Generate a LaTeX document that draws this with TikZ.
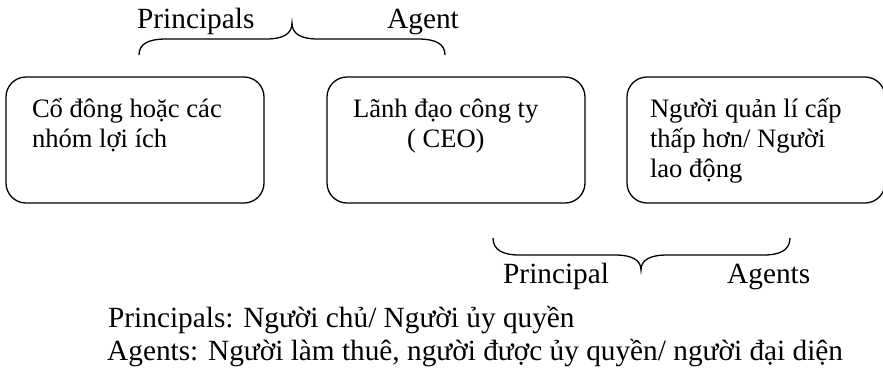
\documentclass[tikz,border=0pt]{standalone}
\usepackage{fontspec}
\setmainfont{Liberation Serif}
\newcommand{\boxfont}{\fontsize{26.6pt}{30pt}\selectfont\lineskiplimit=-100pt}
\newcommand{\lblfont}{\fontsize{29.3pt}{33pt}\selectfont}
\begin{document}
\begin{tikzpicture}[x=1pt,y=-1pt,
  rbox/.style={draw, line width=1.3pt, rounded corners=20pt, anchor=north west,
    inner ysep=0pt, outer sep=0pt, minimum width=258pt, minimum height=126pt, font=\boxfont},
  lbl/.style={anchor=base west, inner sep=0pt, font=\lblfont},
  brace/.style={line width=1.3pt}]
\useasboundingbox (0,0) rectangle (883,378);

% boxes
\node[rbox, inner xsep=26pt] (b1) at (6,77)
  {\parbox[t][126pt][t]{206pt}{\raggedright\rule{0pt}{40pt}Cổ đông hoặc các\\nhóm lợi ích}};
\node[rbox, inner xsep=26pt] (b2) at (327,77)
  {\parbox[t][126pt][t]{206pt}{\raggedright\rule{0pt}{40pt}Lãnh đạo công ty\\\hspace*{54pt}( CEO)}};
\node[rbox, inner xsep=23pt] (b3) at (627,77)
  {\parbox[t][126pt][t]{212pt}{\raggedright\rule{0pt}{40pt}Người quản lí cấp\\thấp hơn/ Người\\lao động}};

% top brace
\draw[brace] (139,55) .. controls (139,43) and (150,39) .. (166,39) -- (266,39)
  .. controls (283,39) and (292,34) .. (292,23)
  .. controls (292,34) and (301,39) .. (318,39) -- (418,39)
  .. controls (434,39) and (445,43) .. (445,55);
\node[lbl] (tp) at (137,28) {Principals};
\node[lbl] (ta) at (387,28) {Agent};

% bottom brace
\draw[brace] (493,238) .. controls (493,250) and (503,255) .. (519,255) -- (615,255)
  .. controls (632,255) and (641,260) .. (641,270)
  .. controls (641,260) and (650,255) .. (667,255) -- (764,255)
  .. controls (780,255) and (790,250) .. (790,238);
\node[lbl] (bp) at (503,283) {Principal};
\node[lbl] (ba) at (727,283) {Agents};

% legend
\node[lbl] (l1) at (108,327) {Principals: Người chủ/ Người ủy quyền};
\node[lbl] (l2) at (107,360) {Agents: Người làm thuê, người được ủy quyền/ người đại diện};
\end{tikzpicture}
\end{document}
